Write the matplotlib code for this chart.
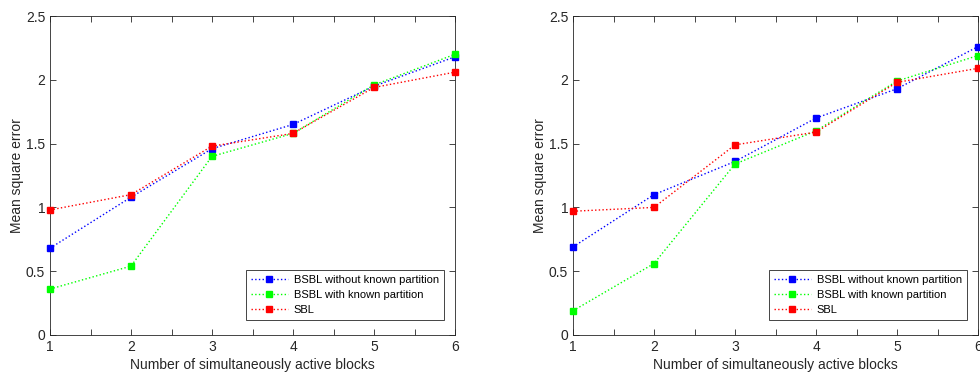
import matplotlib
matplotlib.use("Agg")
import matplotlib.pyplot as plt
import numpy as np

plt.rcParams['font.family'] = ['Liberation Sans', 'DejaVu Sans']

blocks = [1, 2, 3, 4, 5, 6]
labels = ["BSBL without known partition", "BSBL with known partition", "SBL"]
colors = ["#0000ff", "#00ff00", "#ff0000"]

left_bsbl_unknown = [0.68, 1.08, 1.46, 1.65, 1.95, 2.18]
left_bsbl_known = [0.36, 0.54, 1.40, 1.58, 1.96, 2.20]
left_sbl = [0.98, 1.10, 1.48, 1.58, 1.94, 2.06]

right_bsbl_unknown = [0.69, 1.10, 1.36, 1.70, 1.93, 2.26]
right_bsbl_known = [0.19, 0.56, 1.34, 1.60, 1.99, 2.19]
right_sbl = [0.97, 1.00, 1.49, 1.59, 1.98, 2.09]

fig = plt.figure(figsize=(9.8, 3.79), dpi=100)
axL = fig.add_axes([50/980, 44/379, 405/980, 319/379])
axR = fig.add_axes([573/980, 44/379, 405/980, 319/379])

axcol = "#262626"
for ax, series in [(axL, [left_bsbl_unknown, left_bsbl_known, left_sbl]),
                   (axR, [right_bsbl_unknown, right_bsbl_known, right_sbl])]:
    for vals, c, lab in zip(series, colors, labels):
        ax.plot(blocks, vals, linestyle=':', color=c, linewidth=1.0,
                marker='s', markersize=4.8, markerfacecolor=c, markeredgecolor=c,
                label=lab, clip_on=False, zorder=3)
    ax.set_xlim(1, 6)
    ax.set_ylim(0, 2.5)
    ax.set_xticks(np.arange(1, 6.01, 0.5))
    ax.set_xticklabels([str(int(v)) if v == int(v) else "" for v in np.arange(1, 6.01, 0.5)])
    ax.set_yticks([0, 0.5, 1, 1.5, 2, 2.5])
    ax.set_yticklabels(["0", "0.5", "1", "1.5", "2", "2.5"])
    ax.tick_params(direction='in', top=True, right=True, length=4, width=0.6,
                   colors=axcol, labelsize=10, labelcolor=axcol)
    for s in ax.spines.values():
        s.set_color(axcol)
        s.set_linewidth(0.6)
    ax.set_xlabel("Number of simultaneously active blocks", fontsize=10, color=axcol, labelpad=3)
    ax.set_ylabel("Mean square error", fontsize=10, color=axcol, labelpad=1)
    leg = ax.legend(loc='lower right', fontsize=8, handlelength=3.4, handletextpad=0.5,
                    borderpad=0.45, labelspacing=0.45, fancybox=False, framealpha=1,
                    edgecolor=axcol, borderaxespad=0, bbox_to_anchor=(0.973, 0.047))
    leg.get_frame().set_linewidth(0.6)

fig.savefig("out.png", dpi=100)
